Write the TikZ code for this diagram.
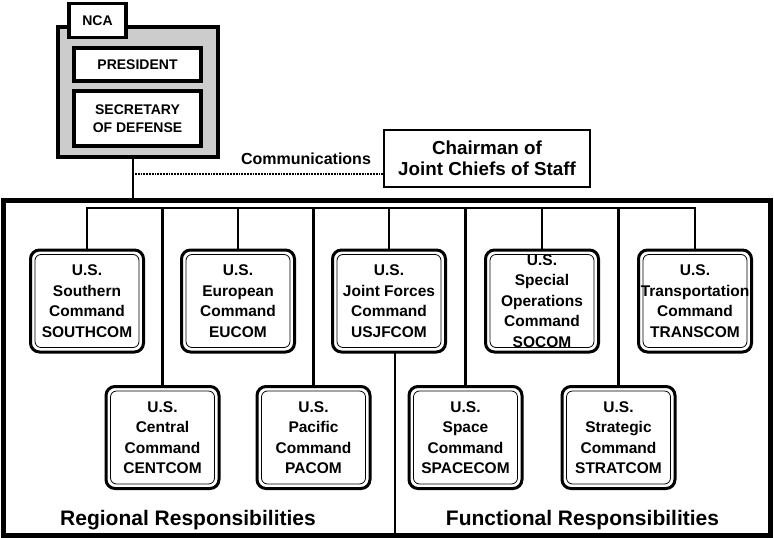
\documentclass[tikz,border=0pt]{standalone}
\usepackage{fontspec}
\setmainfont{Liberation Sans}
\usetikzlibrary{positioning, calc}

\begin{document}
\begin{tikzpicture}[
            x=1pt, y=-1pt,
            node distance=38pt and 38pt,
            cmd/.style={draw, line width=3pt, rounded corners=9pt, outer sep=0pt, inner sep=1pt,
                minimum width=113pt, minimum height=102pt, align=center,
                font=\fontsize{15.5}{20.5}\selectfont\bfseries,
                path picture={\draw[line width=0.8pt, rounded corners=6pt]
                    ([shift={(4.5pt,4.5pt)}]path picture bounding box.south west) rectangle
                    ([shift={(-4.5pt,-4.5pt)}]path picture bounding box.north east);}},
            ncabox/.style={draw, line width=3.5pt, fill=white, outer sep=0pt, align=center,
                font=\fontsize{14}{18}\selectfont\bfseries},
            link/.style={line width=2.5pt},
            dotline/.style={line width=2.3pt, dash pattern=on 1.8pt off 1pt},
            resp/.style={anchor=base, font=\fontsize{21}{25}\selectfont\bfseries}
        ]
        \useasboundingbox (0,0) rectangle (774,538);

        % Outer frame
        \node[draw, line width=5pt, inner sep=0pt, minimum width=767pt, minimum height=335pt] (frame) at (386.5,367.5) {};

        % NCA
        \node[draw, line width=3.5pt, fill=black!20, outer sep=0pt, minimum width=160pt, minimum height=130pt] (nca) at (138,92) {};
        \node[ncabox, minimum width=57pt, minimum height=34pt] (ncatab) at (97.5,20.5) {NCA};
        \node[ncabox, minimum width=127pt, minimum height=33pt] (president) at (137.5,64.5) {PRESIDENT};
        \node[ncabox, minimum width=127pt, minimum height=55pt, below=10pt of president] (secdef) {SECRETARY\\OF DEFENSE};

        % Chairman
        \node[draw, line width=1.5pt, minimum width=206pt, minimum height=57pt, align=center,
              font=\fontsize{18.8}{21}\selectfont\bfseries] (chairman) at (487,158.5) {Chairman of\\Joint Chiefs of Staff};
        \node[font=\fontsize{16}{19}\selectfont\bfseries] (comm) at (306,159) {Communications};

        \coordinate (ncadrop) at ([xshift=-5pt]nca.south);
        \coordinate (commy) at (0,174);
        \draw[link] (ncadrop) -- ([yshift=-3pt]ncadrop |- frame.north);
        \draw[dotline] ([xshift=2pt]ncadrop |- commy) -- (chairman.west |- commy);

        % Unified commands, top row
        \node[cmd] (southcom) at (87,301) {U.S.\\Southern\\Command\\SOUTHCOM};
        \node[cmd, right=of southcom] (eucom) {U.S.\\European\\Command\\EUCOM};
        \node[cmd, right=of eucom] (usjfcom) {U.S.\\Joint Forces\\Command\\USJFCOM};
        \node[cmd, right=40pt of usjfcom] (socom) {U.S.\\Special\\Operations\\Command\\SOCOM};
        \node[cmd, right=40pt of socom] (transcom) {U.S.\\Transportation\\Command\\TRANSCOM};

        % Unified commands, bottom row
        \node[cmd] (centcom) at ($(southcom)!0.5!(eucom) + (0,136.5)$) {U.S.\\Central\\Command\\CENTCOM};
        \node[cmd] (pacom) at ($(eucom)!0.5!(usjfcom) + (0,136.5)$) {U.S.\\Pacific\\Command\\PACOM};
        \node[cmd] (spacecom) at ($(usjfcom)!0.5!(socom) + (0,136.5)$) {U.S.\\Space\\Command\\SPACECOM};
        \node[cmd] (stratcom) at ($(socom)!0.5!(transcom) + (0,136.5)$) {U.S.\\Strategic\\Command\\STRATCOM};

        % Bus and drops
        \coordinate (bus) at (0,208);
        \draw[link] (southcom.north) -- (southcom.north |- bus) -- (transcom.north |- bus) -- (transcom.north);
        \draw[link] (centcom.north) -- (centcom.north |- bus);
        \draw[link] (eucom.north) -- (eucom.north |- bus);
        \draw[link] (pacom.north) -- (pacom.north |- bus);
        \draw[link] (usjfcom.north) -- (usjfcom.north |- bus);
        \draw[link] (spacecom.north) -- (spacecom.north |- bus);
        \draw[link] (socom.north) -- (socom.north |- bus);
        \draw[link] (stratcom.north) -- (stratcom.north |- bus);

        % Divider
        \coordinate (divtop) at ([xshift=6pt]usjfcom.south);
        \draw[link] (divtop) -- (divtop |- frame.south);

        \node[resp] (regional) at (188,525) {Regional Responsibilities};
        \node[resp] (functional) at (582.5,525) {Functional Responsibilities};

        \end{tikzpicture}
\end{document}
